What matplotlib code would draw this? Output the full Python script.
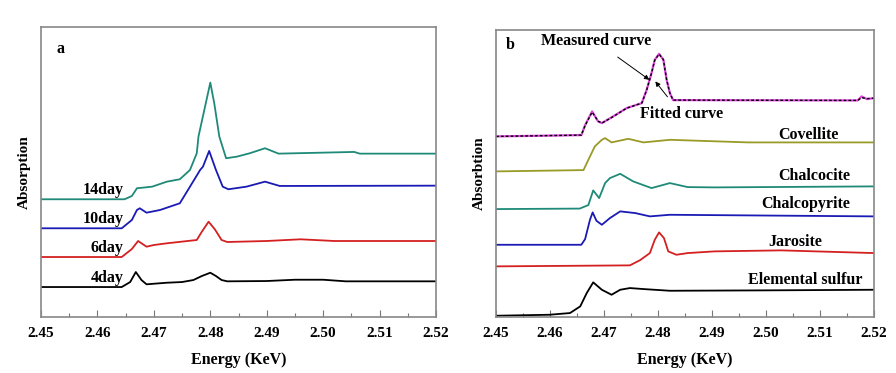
import numpy as np
import matplotlib.pyplot as plt
from matplotlib.ticker import MultipleLocator

plt.rcParams['font.family'] = ['Liberation Serif', 'DejaVu Serif']
plt.rcParams['font.weight'] = 'bold'

# panel a: XANES spectra after leaching days (energy KeV, arbitrary absorption)
x_4 = [2.450, 2.4643, 2.4658, 2.4668, 2.4678, 2.4687, 2.470, 2.4723, 2.475, 2.477, 2.4785,
       2.480, 2.481, 2.482, 2.483, 2.490, 2.495, 2.500, 2.504, 2.520]
y_4 = [30, 30, 35, 45, 37, 32.7, 33.3, 34.3, 35, 37, 41, 44.3, 41, 37, 35.7, 36, 37.3, 37.3,
       35.7, 35.7]

x_6 = [2.450, 2.4643, 2.4661, 2.4672, 2.4687, 2.470, 2.4723, 2.4776, 2.4785, 2.4797, 2.4808,
       2.482, 2.483, 2.490, 2.496, 2.502, 2.520]
y_6 = [60, 60, 68, 76, 70.3, 72, 73.7, 77, 85.3, 95.3, 87.7, 77, 75, 76, 77.7, 76, 76]

x_10 = [2.450, 2.4643, 2.4661, 2.467, 2.4675, 2.4687, 2.4711, 2.4746, 2.4764, 2.4782, 2.4787,
        2.4798, 2.481, 2.4822, 2.4832, 2.4864, 2.4897, 2.4923, 2.520]
y_10 = [88.7, 88.7, 97, 107, 108.7, 104.3, 107, 113.7, 130.3, 147, 150.3, 166, 147, 130.3,
        127.7, 130.3, 135.3, 131, 131.3]

x_14 = [2.450, 2.4648, 2.4661, 2.467, 2.4697, 2.4723, 2.4746, 2.4764, 2.4776, 2.4779, 2.4792,
        2.480, 2.4807, 2.4816, 2.4828, 2.4847, 2.487, 2.4897, 2.4921, 2.5055, 2.5065, 2.520]
y_14 = [117.7, 117.7, 121, 128.7, 130.3, 135.3, 137.7, 147, 163.7, 180.3, 213.7, 234.3, 213.7,
        180.3, 158.7, 160.3, 163.7, 168.7, 163.3, 165, 163.3, 163.3]

days = ['4day', '6day', '10day', '14day']
day_colors = ['black', '#d42020', '#1a1ab4', '#1f8a78']

# panel b: reference spectra
x_s = [2.450, 2.4599, 2.4637, 2.4656, 2.4668, 2.468, 2.4696, 2.4714, 2.473, 2.4748, 2.4773,
       2.4822, 2.500, 2.520]
y_s = [1.3, 2.3, 4, 10.7, 24, 34.7, 27.3, 22.3, 27.3, 29, 28, 26.3, 26.7, 27.3]

x_j = [2.450, 2.4748, 2.4767, 2.4785, 2.4794, 2.4802, 2.4811, 2.4819, 2.4834, 2.4855, 2.4905,
       2.5028, 2.520]
y_j = [50.7, 51.7, 57, 64, 77.3, 84.7, 79, 65.7, 62.3, 64, 65.7, 66.7, 64]

x_cp = [2.450, 2.4658, 2.4665, 2.4674, 2.4679, 2.4686, 2.4696, 2.4711, 2.473, 2.4758, 2.4785,
        2.4822, 2.520]
y_cp = [72.3, 72.3, 78, 97.3, 104.7, 96.3, 92.3, 99, 105.7, 104, 100.7, 102.3, 100.7]

x_cc = [2.450, 2.4655, 2.4671, 2.468, 2.4691, 2.4702, 2.4711, 2.473, 2.4754, 2.4788, 2.4822,
        2.4855, 2.4905, 2.520]
y_cc = [108, 108.5, 112, 126.7, 119, 134, 139, 143.3, 135.7, 129, 134, 130, 129.7, 130.7]

x_cv = [2.450, 2.4662, 2.4671, 2.4683, 2.4696, 2.4702, 2.4714, 2.4745, 2.4773, 2.4822, 2.4967,
        2.520]
y_cv = [145.7, 147, 157.3, 170.7, 177.3, 179, 174.7, 178.3, 174.7, 177.3, 174.7, 174.7]

x_m = [2.450, 2.4658, 2.4665, 2.4678, 2.4689, 2.4696, 2.4717, 2.4742, 2.477, 2.4779, 2.4788,
       2.4794, 2.4802, 2.481, 2.4816, 2.4822, 2.4828, 2.517, 2.5177, 2.5187, 2.520]
y_m = [180.7, 182, 192, 205.7, 195.7, 194, 200.7, 209, 214, 227.3, 244, 257.3, 263.3, 257.3,
       237.3, 224, 217, 216.7, 220.7, 218, 219]
y_fit = [180.7, 182, 191.5, 205, 196, 194, 200.5, 209, 214, 227, 244, 257, 263, 257.5,
         237.5, 224, 217, 216.7, 219.5, 218.5, 219]

refs = ['Elemental sulfur', 'Jarosite', 'Chalcopyrite', 'Chalcocite', 'Covellite']
ref_colors = ['black', '#d42020', '#1a1ab4', '#1f8a78', '#9a9a28']
ref_label_pos = [(2.5072, 37.3), (2.5055, 74.7), (2.5073, 113.3), (2.5089, 141.3), (2.5078, 182.3)]

fig = plt.figure(figsize=(8.96, 3.73), dpi=100)
ax1 = fig.add_axes([0.0458, 0.150, 0.4408, 0.778])
ax2 = fig.add_axes([0.5536, 0.150, 0.4218, 0.770])

fs = 11
fl = 11.5
for ax in (ax1, ax2):
    ax.set_xlim(2.45, 2.52)
    ax.xaxis.set_major_locator(MultipleLocator(0.01))
    ax.xaxis.set_minor_locator(MultipleLocator(0.005))
    ax.xaxis.set_major_formatter(plt.FormatStrFormatter('%.2f'))
    ax.set_yticks([])
    ax.tick_params(axis='x', which='major', direction='in', length=5, width=0.8,
                   color='#777777', labelsize=fs, pad=7)
    ax.tick_params(axis='x', which='minor', direction='in', length=3, width=0.8, color='#777777')
    for s in ax.spines.values():
        s.set_color('#888888')
        s.set_linewidth(1.2)
    for lab in ax.get_xticklabels():
        lab.set_fontweight('bold')
    ax.set_xlabel('Energy (KeV)', fontsize=fs + 0.5, fontweight='bold', labelpad=9)

ax1.set_ylim(0, 290)
ax1.set_ylabel('Absorption', fontsize=fs, fontweight='bold', labelpad=7)
for xs, ys, lab, c in zip([x_4, x_6, x_10, x_14], [y_4, y_6, y_10, y_14], days, day_colors):
    ax1.plot(xs, ys, color=c, lw=1.3)
    ax1.text(2.4646, ys[0] + 1, lab, ha='right', va='bottom', fontsize=fl, fontweight='bold')
ax1.text(2.4535, 268, 'a', fontsize=fl, fontweight='bold', ha='center', va='center')

ax2.set_ylim(0, 287.3)
ax2.set_ylabel('Absorbtion', fontsize=fs, fontweight='bold', labelpad=7)
for xs, ys, lab, c, pos in zip([x_s, x_j, x_cp, x_cc, x_cv], [y_s, y_j, y_cp, y_cc, y_cv],
                               refs, ref_colors, ref_label_pos):
    ax2.plot(xs, ys, color=c, lw=1.3)
    ax2.text(pos[0], pos[1], lab, ha='center', va='center', fontsize=fl, fontweight='bold')
ax2.plot(x_m, y_m, color='#dd44dd', lw=1.6)
ax2.plot(x_m, y_fit, color='black', lw=1.0, ls=(0, (2, 1.5)))
ax2.annotate('Measured curve', xy=(2.4784, 237.3), xytext=(2.4685, 275.7),
             ha='center', va='center', fontsize=fl, fontweight='bold',
             arrowprops=dict(arrowstyle='-|>', color='black', lw=0.7, shrinkA=6, shrinkB=0,
                             mutation_scale=7))
ax2.annotate('Fitted curve', xy=(2.4795, 235.7), xytext=(2.4843, 203),
             ha='center', va='center', fontsize=fl, fontweight='bold',
             arrowprops=dict(arrowstyle='-|>', color='black', lw=0.7, shrinkA=6, shrinkB=0,
                             mutation_scale=7))
ax2.text(2.4527, 272, 'b', fontsize=fl, fontweight='bold', ha='center', va='center')

fig.savefig('out.png', dpi=100)
